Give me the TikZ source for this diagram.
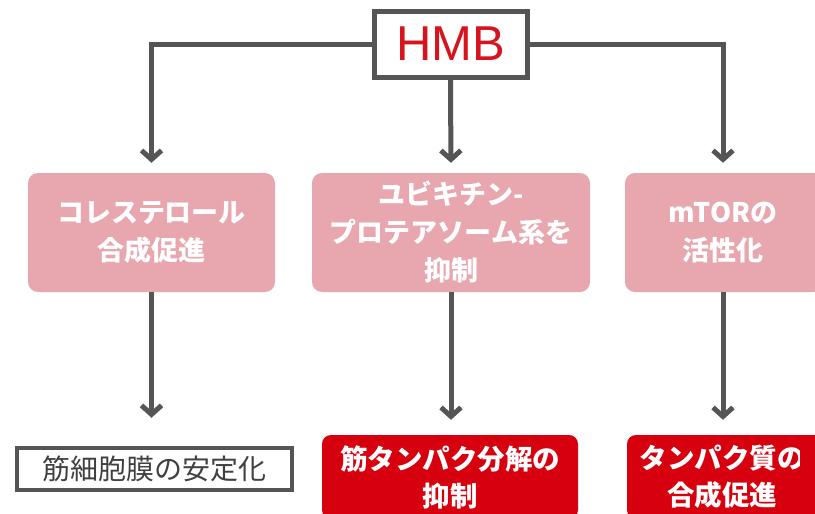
\documentclass[tikz,border=0pt]{standalone}
\usepackage{fontspec}
\newfontfamily\jp{Noto Sans CJK JP}
\newfontfamily\lat{Liberation Sans}
\usetikzlibrary{arrows.meta}
\definecolor{linegray}{HTML}{555555}
\definecolor{pinkbox}{HTML}{E8A6AF}
\definecolor{redbox}{HTML}{D7000F}
\definecolor{hmbred}{HTML}{D7141E}
\definecolor{textgray}{HTML}{404040}
\tikzset{
  conn/.style={draw=linegray, line width=5pt, -{Straight Barb[length=9pt,width=20pt,line width=5pt]}},
  pinkb/.style={fill=pinkbox, rounded corners=10pt, text=white, align=center, font=\jp\bfseries\fontsize{27}{38}\selectfont, inner sep=0pt},
  redb/.style={fill=redbox, rounded corners=9pt, text=white, align=center, font=\jp\bfseries\fontsize{27.5}{37}\selectfont, inner sep=0pt},
  grayb/.style={draw=linegray, line width=4.5pt, fill=white, text=textgray, align=center, font=\jp\fontsize{28}{30}\selectfont, inner sep=0pt},
  hmbb/.style={draw=linegray, line width=5pt, fill=white, text=hmbred, font=\lat\fontsize{49}{52}\selectfont, inner sep=0pt}
}
\begin{document}
\begin{tikzpicture}[x=1pt,y=-1pt]
\useasboundingbox (0,0) rectangle (815,514);
% level 1 boxes
\node[pinkb, minimum width=247pt, minimum height=119pt] (n1) at (151.5,232.5) {コレステロール\\合成促進};
\node[pinkb, minimum width=278pt, minimum height=119pt] (n2) at (451,232.5) {ユビキチン-\\プロテアソーム系を\\抑制};
\node[pinkb, minimum width=196pt, minimum height=119pt, text width=196pt] (n3) at (723,232.5) {mTORの\\活性化};
\fill[pinkbox] (800,173) rectangle (822,292);
% bottom boxes
\node[grayb, minimum width=275pt, minimum height=42pt] (b1) at (154.5,469) {筋細胞膜の安定化};
\node[redb, minimum width=256pt, minimum height=84pt] (b2) at (450,477) {筋タンパク分解の\\抑制};
\node[redb, minimum width=190pt, minimum height=84pt] (b3) at (722,477) {タンパク質の\\合成促進};
\fill[redbox] (800,435) rectangle (822,520);
% HMB
\node[hmbb, minimum width=153pt, minimum height=66pt] (hmb) at (450.5,44) {HMB};
% connectors
\draw[conn, shorten >=10pt] (hmb.west) -| (n1.north);
\draw[conn, shorten >=10pt] (hmb.south) -- (n2.north);
\draw[conn, shorten >=10pt] (hmb.east) -| (n3.north);
\draw[conn, shorten >=28pt] (n1.south) -- (n1.south |- b1.north);
\draw[conn, shorten >=15pt] (n2.south) -- (n2.south |- b2.north);
\draw[conn, shorten >=15pt] (n3.south) -- (n3.south |- b3.north);
\end{tikzpicture}
\end{document}
